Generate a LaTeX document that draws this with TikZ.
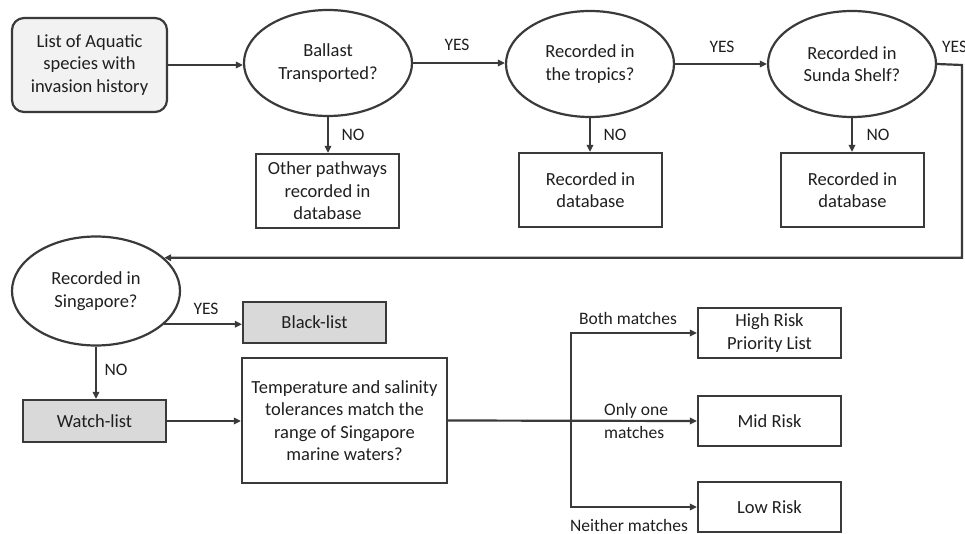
\documentclass[tikz,border=0pt]{standalone}
\usepackage{fontspec}
\setmainfont{Carlito}
\usetikzlibrary{shapes.geometric,arrows.meta}
\definecolor{ln}{HTML}{3A3A3A}
\definecolor{lightfill}{HTML}{F2F2F2}
\definecolor{grayfill}{HTML}{D9D9D9}
\begin{document}
\begin{tikzpicture}[x=1pt,y=-1pt,
  every node/.style={font=\fontsize{18.5}{22.5}\selectfont, text=black!88},
  base/.style={draw=ln, line width=2.2pt, align=center, inner sep=0pt},
  oval/.style={base, ellipse, minimum width=168pt, minimum height=106pt},
  arr/.style={draw=ln, line width=2.2pt, -{Triangle[length=7pt,width=6.5pt]}},
  lbl/.style={inner sep=0pt, font=\fontsize{17.5}{21}\selectfont}
]
\useasboundingbox (0,0) rectangle (965,534);
% top row
\node[base, rounded corners=12pt, fill=lightfill, minimum width=155pt, minimum height=94pt] (start) at (89.5,65) {List of Aquatic\\species with\\invasion history};
\node[oval] (e1) at (328,63) {Ballast\\Transported?};
\node[oval] (e2) at (590,64) {Recorded in\\the tropics?};
\node[oval] (e3) at (852,64) {Recorded in\\Sunda Shelf?};
\node[base, minimum width=143pt, minimum height=74pt] (d1) at (327.5,191) {Other pathways\\recorded in\\database};
\node[base, minimum width=143pt, minimum height=74pt] (d2) at (590.5,190) {Recorded in\\database};
\node[base, minimum width=143pt, minimum height=74pt] (d3) at (852.5,190) {Recorded in\\database};
% bottom part
\node[oval, minimum height=109pt] (e4) at (96,291) {Recorded in\\Singapore?};
\node[base, fill=grayfill, minimum width=143pt, minimum height=41pt] (black) at (314.5,322.5) {Black-list};
\node[base, fill=grayfill, minimum width=143pt, minimum height=42pt] (watch) at (94.5,421) {Watch-list};
\node[base, minimum width=205pt, minimum height=125pt] (temp) at (344.5,420.5) {Temperature and salinity\\tolerances match the\\range of Singapore\\marine waters?};
\node[base, minimum width=143pt, minimum height=50pt] (high) at (769.5,333) {High Risk\\Priority List};
\node[base, minimum width=143pt, minimum height=50pt] (mid) at (769.5,421) {Mid Risk};
\node[base, minimum width=143pt, minimum height=50pt] (low) at (769.5,507) {Low Risk};
% connectors top
\draw[arr] (start.east) -- (start.east -| e1.west);
\draw[arr] (e1.east) -- (e1.east -| e2.west);
\draw[arr] (e2.east) -- (e2.east -| e3.west);
\draw[arr] (e1.south) -- (e1.south |- d1.north);
\draw[arr] (e2.south) -- (e2.south |- d2.north);
\draw[arr] (e3.south) -- (e3.south |- d3.north);
\node[lbl] (y1) at (457,45) {YES};
\node[lbl] (y2) at (722,47) {YES};
\node[lbl, anchor=west] (y3) at (942,47) {YES};
\node[lbl] (n1) at (353,135) {NO};
\node[lbl] (n2) at (615,135) {NO};
\node[lbl] (n3) at (878,135) {NO};
% loop
\coordinate (turn) at (962,65);
\draw[arr] (e3.east) -- (turn) |- (e4.26);
% bottom connectors
\draw[arr] (e4.-26) -- (e4.-26 -| black.west);
\node[lbl] (y4) at (206,309) {YES};
\draw[arr] (e4.south) -- (e4.south |- watch.north);
\node[lbl] (n4) at (116,370) {NO};
\draw[arr] (watch.east) -- (watch.east -| temp.west);
\coordinate (bj) at (571,421);
\draw[arr] (temp.east) -- (mid.west);
\draw[arr] (bj) |- (high.west);
\draw[arr] (bj) |- (low.west);
\node[lbl] (bm) at (628,318) {Both matches};
\node[lbl, align=left, anchor=west] (om) at (604,421) {Only one\\[2pt]matches};
\node[lbl] (nm) at (629,525) {Neither matches};
\end{tikzpicture}
\end{document}
